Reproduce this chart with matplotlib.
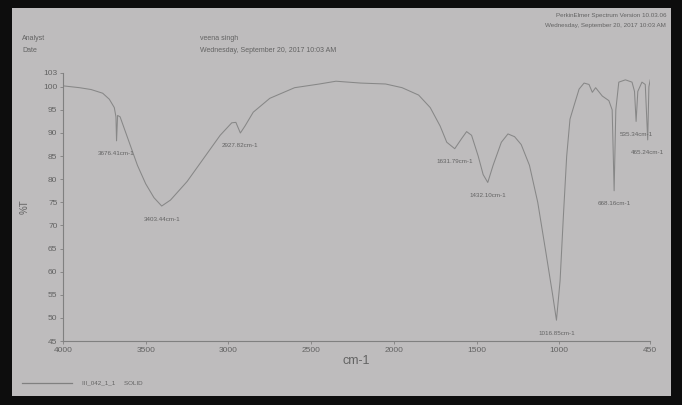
import matplotlib
matplotlib.use('Agg')
import numpy as np
import matplotlib.pyplot as plt
from matplotlib.patches import Rectangle

# spectrum (wavenumber cm-1, %T)
wavenumber = [4000, 3900, 3830, 3760, 3720, 3690, 3680, 3676.41, 3670, 3655, 3600, 3550,
              3500, 3450, 3403.44, 3350, 3250, 3150, 3050, 2980, 2955, 2927.82, 2900,
              2850, 2750, 2600, 2450, 2350, 2200, 2050, 1950, 1850, 1780, 1720, 1680,
              1631.79, 1590, 1560, 1530, 1490, 1460, 1432.10, 1400, 1350, 1310, 1270,
              1230, 1180, 1130, 1080, 1040, 1016.85, 995, 975, 955, 935, 910, 880, 850,
              820, 800, 780, 740, 700, 680, 668.16, 658, 640, 600, 560, 545, 535.34,
              525, 500, 480, 465.24, 458, 450]
transmittance = [100.2, 99.8, 99.4, 98.6, 97.3, 95.5, 93.5, 88.3, 93.8, 93.5, 88.0, 83.0,
                 79.0, 76.0, 74.2, 75.5, 79.5, 84.5, 89.5, 92.2, 92.3, 90.0, 91.5,
                 94.5, 97.5, 99.8, 100.6, 101.2, 100.8, 100.6, 99.8, 98.2, 95.5, 91.5, 88.0,
                 86.6, 88.8, 90.3, 89.5, 85.0, 81.0, 79.3, 83.0, 88.0, 89.8, 89.2,
                 87.5, 83.0, 75.0, 64.0, 55.0, 49.5, 58.0, 72.0, 85.0, 93.0, 96.0, 99.5, 100.8,
                 100.5, 98.8, 99.8, 98.0, 97.0, 95.0, 77.5, 95.0, 101.0, 101.5, 101.0, 99.0, 92.5,
                 99.0, 101.0, 100.5, 88.5, 100.0, 101.5]

peak_wn = [3676.41, 3403.44, 2927.82, 1631.79, 1432.10, 1016.85, 668.16, 535.34, 465.24]
peak_t = [88.3, 74.2, 90.0, 86.6, 79.3, 49.5, 77.5, 92.5, 88.5]

xticks = [4000, 3500, 3000, 2500, 2000, 1500, 1000, 450]
yticks = [103, 100, 95, 90, 85, 80, 75, 70, 65, 60, 55, 50, 45]

paper = '#bebcbd'
ink = '#636363'
plt.rcParams['font.family'] = ['Liberation Sans', 'DejaVu Sans']

fig = plt.figure(figsize=(6.82, 4.05), dpi=100, facecolor='#0d0d0d')
fig.patches.append(Rectangle((0.0176, 0.022), 0.966, 0.958, transform=fig.transFigure,
                             facecolor=paper, edgecolor='none', zorder=-1))

ax = fig.add_axes([0.0924, 0.158, 0.861, 0.662])
ax.patch.set_alpha(0)
ax.plot(wavenumber, transmittance, color='#878787', lw=0.75)

for wn, t in zip(peak_wn, peak_t):
    ax.annotate(f'{wn:.2f}cm-1', (wn, t), xytext=(0, -13), textcoords='offset pixels',
                ha='center', va='center', fontsize=4.5, color=ink)

ax.set_xlim(4000, 450)
ax.set_ylim(45, 103)
ax.set_xticks(xticks)
ax.set_yticks(yticks)
for s in ['top', 'right']:
    ax.spines[s].set_visible(False)
for s in ['left', 'bottom']:
    ax.spines[s].set_color('#808080')
    ax.spines[s].set_linewidth(0.8)
ax.tick_params(colors='#808080', labelcolor=ink, labelsize=6, length=2.5, width=0.6, pad=1.5)
ax.set_xlabel('cm-1', fontsize=9, color=ink, labelpad=1)
ax.set_ylabel('%T', fontsize=7, color=ink, labelpad=10)

fig.text(22/682, 1-38/405, 'Analyst', fontsize=5, color=ink, va='center')
fig.text(22/682, 1-50/405, 'Date', fontsize=5, color=ink, va='center')
fig.text(200/682, 1-38/405, 'veena singh', fontsize=5, color=ink, va='center')
fig.text(200/682, 1-50/405, 'Wednesday, September 20, 2017 10:03 AM', fontsize=5, color=ink, va='center')
fig.text(666/682, 1-15/405, 'PerkinElmer Spectrum Version 10.03.06', fontsize=4.5, color=ink,
         va='center', ha='right')
fig.text(666/682, 1-25/405, 'Wednesday, September 20, 2017 10:03 AM', fontsize=4.5, color=ink,
         va='center', ha='right')

fig.lines.append(plt.Line2D([22/682, 72/682], [1-383/405, 1-383/405], transform=fig.transFigure,
                            color='#808080', lw=0.9))
fig.text(82/682, 1-383/405, 'III_042_1_1     SOLID', fontsize=4.5, color=ink, va='center')

fig.savefig('out.png', dpi=100, facecolor=fig.get_facecolor())
